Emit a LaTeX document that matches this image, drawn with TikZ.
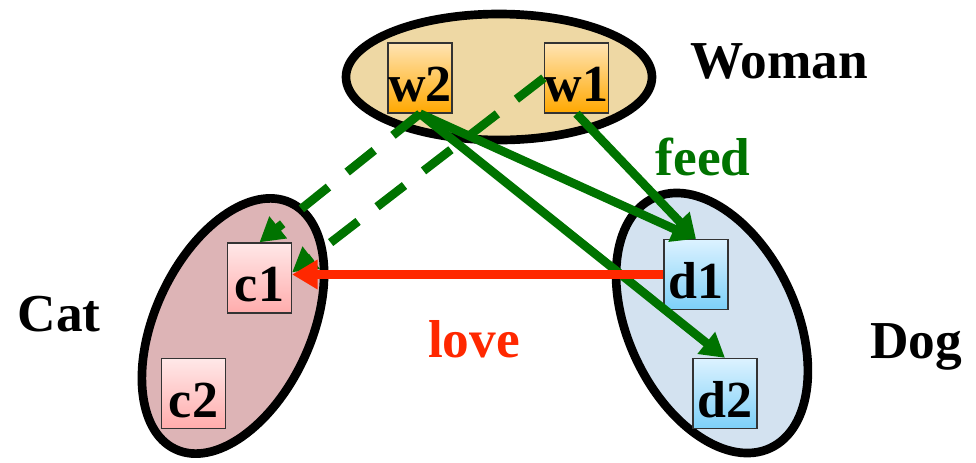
\documentclass[tikz,border=0pt]{standalone}
\usepackage{fontspec}
\setmainfont{Liberation Serif}
\usetikzlibrary{shapes.geometric,arrows.meta}
\definecolor{fgreen}{RGB}{0,115,0}
\definecolor{lred}{RGB}{255,40,0}
\definecolor{wfill}{RGB}{238,216,164}
\definecolor{cfill}{RGB}{221,180,182}
\definecolor{dfill}{RGB}{211,226,240}
\tikzset{
  grp/.style={draw=black, line width=6.5pt, ellipse, inner sep=0pt},
  item/.style={draw=black!80, line width=1pt, inner sep=0pt, minimum width=48pt,
    text height=44pt, text depth=8.5pt, font=\fontsize{39}{41}\selectfont\bfseries},
  witem/.style={item, top color={rgb,255:red,255;green,228;blue,180}, bottom color={rgb,255:red,255;green,168;blue,0}},
  citem/.style={item, top color={rgb,255:red,255;green,232;blue,232}, bottom color={rgb,255:red,255;green,172;blue,172}},
  ditem/.style={item, top color={rgb,255:red,220;green,242;blue,255}, bottom color={rgb,255:red,125;green,208;blue,248}},
  lbl/.style={font=\fontsize{40}{42}\selectfont\bfseries, anchor=base, inner sep=0pt},
  feedarrow/.style={draw=fgreen, line width=6.5pt, -{Triangle[length=18pt,width=20pt]}},
  feeddash/.style={feedarrow, dash pattern=on 26pt off 18pt},
  lovearrow/.style={draw=lred, line width=7pt, -{Triangle[length=19pt,width=21pt]}}
}
\begin{document}
\begin{tikzpicture}[x=0.75pt,y=-0.75pt]
\useasboundingbox (0,0) rectangle (976,462);
% groups
\node[grp, fill=wfill, minimum width=229.5pt, minimum height=94.5pt] (woman) at (499,77) {};
\node[grp, fill=cfill, minimum width=204pt, minimum height=117pt, rotate=65] (cat) at (233,326) {};
\node[grp, fill=dfill, minimum width=207pt, minimum height=126pt, rotate=-65] (dog) at (712,323) {};
% items
\node[witem] (w2) at (420,78) {w2};
\node[witem] (w1) at (576.5,78) {w1};
\node[citem] (c1) at (259.5,278) {c1};
\node[citem] (c2) at (193.5,393.5) {c2};
\node[ditem] (d1) at (696,274.5) {d1};
\node[ditem] (d2) at (725,393.5) {d2};
% labels
\node[lbl] (lwoman) at (779,78) {Woman};
\node[lbl, text=fgreen] (lfeed) at (703,175) {feed};
\node[lbl] (lcat) at (59,331) {Cat};
\node[lbl, text=lred] (llove) at (474,357) {love};
\node[lbl] (ldog) at (916,358) {Dog};
% connectors
\draw[feeddash] (w2.south) -- (c1.north);
\draw[feeddash] (w1.west) -- (c1.10);
\draw[feedarrow] (w2.south) -- (d1.north);
\draw[feedarrow] (w2.south) -- (d2.north);
\draw[feedarrow] (w1.south) -- (d1.north);
\draw[lovearrow] (d1.west) -- (d1.west -| c1.east);
\end{tikzpicture}
\end{document}
